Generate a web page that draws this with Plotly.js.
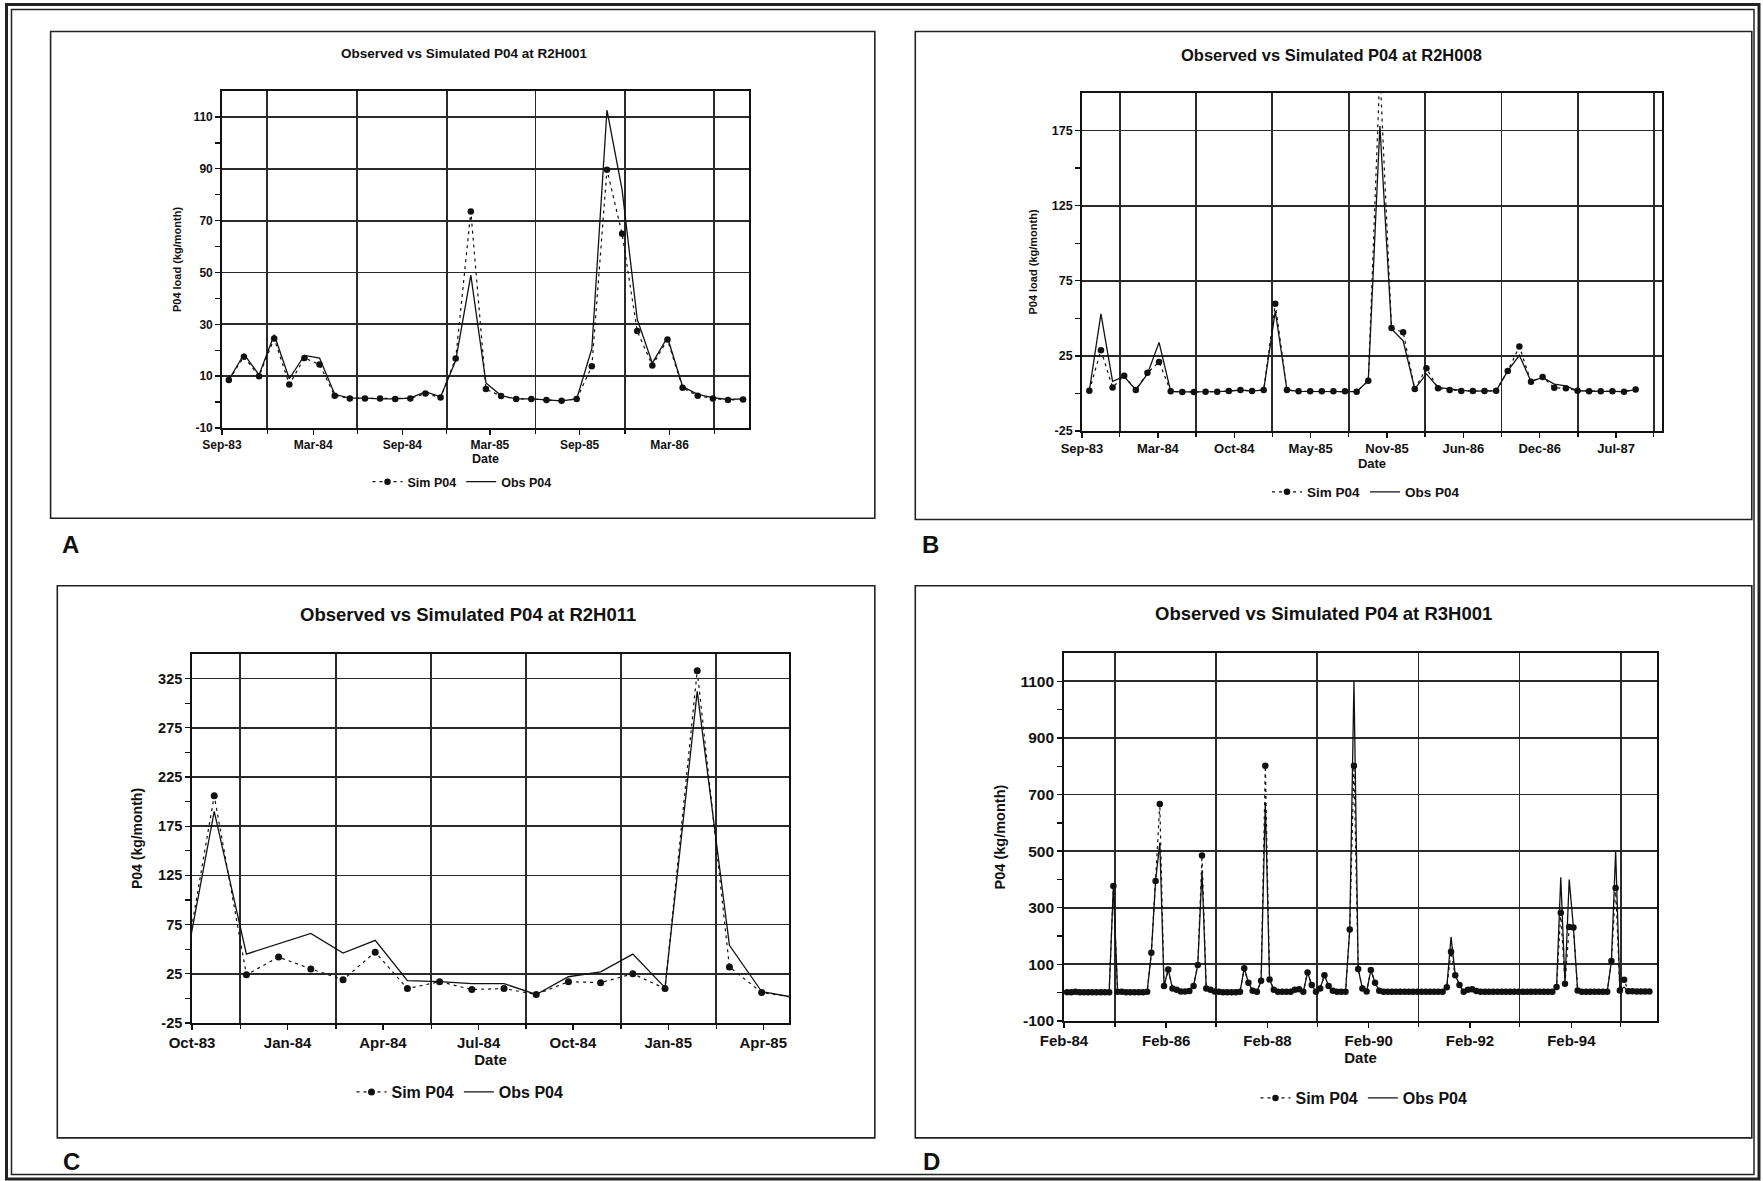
<!DOCTYPE html>
<html><head><meta charset="utf-8">
<script src="https://cdn.plot.ly/plotly-3.0.1.min.js"></script>
<style>html,body{margin:0;padding:0;background:#fff}#chart{width:1763px;height:1181px}</style>
</head><body><div id="chart"></div>
<script>
// ---------- DATA ----------
// Panel A: R2H001, monthly Sep-83 .. Jul-86
const simA = [8.5,17.5,10,24.5,6.8,17,14.5,2.4,1.4,1.4,1.4,1.2,1.4,3.3,1.8,16.8,73.5,5,2.3,1.2,1.2,0.8,0.5,1.2,13.8,89.6,64.9,27.4,14.1,24.1,5.5,2.4,1.4,0.8,1];
const obsA = [8.5,18.5,10.5,26,9,18,17,3,1.5,1.5,1.2,1.2,1.5,4,2,16,49,7.4,2.5,1.2,1.2,0.8,0.5,1.2,20.6,112.6,82,32,15,25,6,3,1.7,1,1.2];
const ticksA = ['Sep-83','Mar-84','Sep-84','Mar-85','Sep-85','Mar-86'];

// Panel B: R2H008, monthly Sep-83 .. Aug-87
const simB = [1.8,28.8,4,11.8,2.3,13.7,21,1.4,1,1, 1.2,1.2,1.6,2.3,1.6,2.3,59.7,2.3,1.4,1.4, 1.4,1.4,1.4,1.2,8.4,215,43.5,40.7,2.9,16.8, 3.4,2.3,1.6,1.6,1.6,1.8,15,31.2,7.8,11, 3.8,3.4,1.8,1.4,1.4,1.4,1.2,2.7];
const obsB = [1.8,53,8,11.3,2.3,13,34,1.4,1,1, 1.2,1.2,1.6,2.3,1.6,2.3,54.8,2.3,1.4,1.4, 1.4,1.4,1.4,1.2,8.4,178,43,35,3,13, 4,3,2,1.6,1.6,1.8,15,25.4,8,10.7, 6.2,5,1.8,1.4,1.4,1.4,1.2,2.5];
const ticksB = ['Sep-83','Mar-84','Oct-84','May-85','Nov-85','Jun-86','Dec-86','Jul-87'];

// Panel C: R2H011, monthly Sep-83 .. Apr-85 (first and last month run off the axis)
const simC = [15,206,24,42,30,19,47,10,17,9,10,4,17,16,25,10,333,32,6,1];
const obsC = [15,190,45,null,66,46,59,18,17,15,15,4,22,27,45,11,312,54,7,1];
const ticksC = ['Oct-83','Jan-84','Apr-84','Jul-84','Oct-84','Jan-85','Apr-85'];

// Panel D: R3H001, monthly Feb-84 .. Aug-95
const simD = [2,2,3,2,2,2,2,2,2,2,2, 377, 3,3,2,2,2,2,2,3,
  141,395,667,24,82,15,10,4,4,6,24,98,485,15,10,
  4,3,2,2,2,2,3, 86,35,7,3,42,802,47,10, 3,3,3,3, 10,12,3,71,27,3,15,62,24,7, 3,3,3,
  223,802,84,15,4,80,35,7, 3,3,3,3,3,3,3,3,3,3,3,3,3,3,3,
  19,145,62,27,3,10,12,6, 3,3,3,3,3,3,3,3,3,3,3,3,3,3,3,3,3,3,
  20,282,32,232,230,8, 3,3,3,3,3,3,3, 112,370,8,46, 5,5,4,4,4,4];
const obsD = [2,2,3,2,2,2,2,2,2,2,2, 377, 3,3,2,2,2,2,2,3,
  141,395,530,24,82,15,10,4,4,6,24,98,432,15,10,
  4,3,2,2,2,2,3, 86,35,7,3,42,673,47,10, 3,3,3,3, 10,12,3,71,27,3,15,62,24,7, 3,3,3,
  223,1100,84,15,4,80,35,7, 3,3,3,3,3,3,3,3,3,3,3,3,3,3,3,
  19,197,62,27,3,10,12,6, 3,3,3,3,3,3,3,3,3,3,3,3,3,3,3,3,3,3,
  20,408,32,400,230,8, 3,3,3,3,3,3,3, 112,500,8,20, 5,5,4,4,4,4];
const ticksD = ['Feb-84','Feb-86','Feb-88','Feb-90','Feb-92','Feb-94'];

const titles = ['Observed vs Simulated P04 at R2H001','Observed vs Simulated P04 at R2H008',
                'Observed vs Simulated P04 at R2H011','Observed vs Simulated P04 at R3H001'];
const yTitles = ['P04 load (kg/month)','P04 load (kg/month)','P04 (kg/month)','P04 (kg/month)'];
const panelLetters = ['A','B','C','D'];

// ---------- HELPERS ----------
const W = 1763, H = 1181;
const fx = p => p / W, fy = p => 1 - p / H;
const FONT = 'Liberation Sans, Arial, Helvetica, sans-serif';
const INK = '#111';
const GRID = '#2a2a2a';
const idx = (arr, off) => arr.map((_, i) => i + (off || 0));

function simTrace(y, off, xa, ya, leg, ms) {
  return {type:'scatter', mode:'lines+markers', name:'Sim P04', x: idx(y, off), y: y,
    xaxis:xa, yaxis:ya, legend: leg, cliponaxis:true,
    line:{color:INK, width:1.2, dash:'3px,4px'}, marker:{color:INK, size:ms, symbol:'circle'}};
}
function obsTrace(y, off, xa, ya, leg) {
  return {type:'scatter', mode:'lines', name:'Obs P04', x: idx(y, off), y: y, connectgaps:true,
    xaxis:xa, yaxis:ya, legend: leg, cliponaxis:true,
    line:{color:INK, width:1.3}};
}

const traces = [
  simTrace(simA, 0, 'x', 'y', 'legend', 6.5), obsTrace(obsA, 0, 'x', 'y', 'legend'),
  simTrace(simB, 0, 'x2', 'y2', 'legend2', 6.5), obsTrace(obsB, 0, 'x2', 'y2', 'legend2'),
  simTrace(simC, -1, 'x3', 'y3', 'legend3', 7), obsTrace(obsC, -1, 'x3', 'y3', 'legend3'),
  simTrace(simD, 0, 'x4', 'y4', 'legend4', 6.5), obsTrace(obsD, 0, 'x4', 'y4', 'legend4')
];

function xAxis(frame, range, tickvals, ticktext, gridvals, fs, tfs, anchor) {
  return {domain:[fx(frame.L), fx(frame.R)], anchor: anchor, range: range,
    tickmode:'array', tickvals: tickvals, ticktext: ticktext,
    ticks:'outside', ticklen:5, tickwidth:1.4, tickcolor:INK,
    showgrid:false, zeroline:false, showline:true, mirror:true, linecolor:INK, linewidth:1.8,
    tickfont:{family:FONT, size:fs, color:INK, weight:'bold'},
    title:{text:'Date', font:{family:FONT, size:tfs, color:INK, weight:'bold'}, standoff:1},
    minor:{tickmode:'array', tickvals: gridvals, showgrid:true, gridcolor:GRID, gridwidth:1.8,
      ticks:'outside', ticklen:4, tickwidth:1.4, tickcolor:INK}};
}
function yAxis(frame, range, major, minor, fs, tfs, title, anchor, standoff) {
  return {domain:[fy(frame.B), fy(frame.T)], anchor: anchor, range: range,
    tickmode:'array', tickvals: major, ticktext: major.map(String),
    ticks:'outside', ticklen:5, tickwidth:1.4, tickcolor:INK,
    showgrid:true, gridcolor:GRID, gridwidth:1.8, zeroline:false,
    showline:true, mirror:true, linecolor:INK, linewidth:1.8,
    tickfont:{family:FONT, size:fs, color:INK, weight:'bold'},
    title:{text:title, font:{family:FONT, size:tfs, color:INK, weight:'bold'}, standoff:standoff},
    minor:{tickmode:'array', tickvals: minor, showgrid:false, ticks:'outside', ticklen:5, tickwidth:1.4, tickcolor:INK}};
}

const fA = {L:222, R:749, T:91, B:428};
const fB = {L:1082, R:1662, T:93, B:431};
const fC = {L:192, R:789, T:654, B:1023};
const fD = {L:1064, R:1657, T:653, B:1021};

function legendAt(px, py, fs) {
  return {x:fx(px), y:fy(py), xanchor:'center', yanchor:'middle', orientation:'h',
    bgcolor:'rgba(0,0,0,0)', borderwidth:0, itemwidth:30, tracegroupgap:0,
    font:{family:FONT, size:fs, color:INK, weight:'bold'}};
}

function box(x0, y0, x1, y1, w) {
  return {type:'rect', xref:'paper', yref:'paper', x0:fx(x0), x1:fx(x1), y0:fy(y1), y1:fy(y0),
    line:{color:'#222', width:w}, fillcolor:'rgba(0,0,0,0)', layer:'below'};
}
function label(text, px, py, fs, bold) {
  return {text:text, xref:'paper', yref:'paper', x:fx(px), y:fy(py), xanchor:'center', yanchor:'middle',
    showarrow:false, font:{family:FONT, size:fs, color:INK, weight: bold ? 'bold' : 'normal'}};
}

const layout = {
  width:W, height:H, margin:{l:0, r:0, t:0, b:0},
  paper_bgcolor:'#fff', plot_bgcolor:'#fff', showlegend:true,
  xaxis:  xAxis(fA, [-0.45, 34.39], [-0.45, 5.58, 11.47, 17.26, 23.19, 29.14], ticksA,
                [2.55, 8.5, 14.4, 20.27, 26.2, 32.1], 12, 12.5, 'y'),
  yaxis:  yAxis(fA, [-10, 120], [-10,10,30,50,70,90,110], [0,20,40,60,80,100], 12, 11, yTitles[0], 'x', 9),
  xaxis2: xAxis(fB, [-0.63, 49.27], [-0.63, 5.9, 12.47, 19.04, 25.61, 32.18, 38.75, 45.32], ticksB,
                [2.61, 9.18, 15.75, 22.32, 28.89, 35.46, 42.03, 48.56], 13, 13, 'y2'),
  yaxis2: yAxis(fB, [-25, 200], [-25,25,75,125,175], [0,50,100,150], 12.5, 11, yTitles[1], 'x2', 12),
  xaxis3: xAxis(fC, [-0.69, 17.85], [-0.69, 2.28, 5.24, 8.21, 11.14, 14.1, 17.05], ticksC,
                [0.81, 3.78, 6.74, 9.68, 12.63, 15.59], 15, 15, 'y3'),
  yaxis3: yAxis(fC, [-25, 350], [-25,25,75,125,175,225,275,325], [0,50,100,150,200,250,300], 14.5, 14, yTitles[2], 'x3', 12),
  xaxis4: xAxis(fD, [-0.7, 139.8], [-0.7, 23.5, 47.5, 71.5, 95.5, 119.5], ticksD,
                [11.4, 35.3, 59.3, 83.3, 107.2, 131.2], 15, 15, 'y4'),
  yaxis4: yAxis(fD, [-100, 1200], [-100,100,300,500,700,900,1100], [0,200,400,600,800,1000], 15.5, 14.5, yTitles[3], 'x4', 11),
  legend:  legendAt(462, 482, 12.5),
  legend2: legendAt(1366, 492, 13.5),
  legend3: legendAt(460, 1092, 16),
  legend4: legendAt(1364, 1098, 16),
  shapes: [
    box(6.5, 4.5, 1759, 1179, 3),
    box(11.5, 9.5, 1754, 1174.5, 1.5),
    box(50.6, 31.5, 874.8, 518.3, 1.6),
    box(915.3, 31.5, 1751.8, 519.5, 1.6),
    box(57.3, 585.8, 874.8, 1137.9, 1.6),
    box(915.3, 585.8, 1751.8, 1137.9, 1.6)
  ],
  annotations: [
    label(titles[0], 464, 53, 13.5, true),
    label(titles[1], 1331, 55, 16.5, true),
    label(titles[2], 468, 614, 18.5, true),
    label(titles[3], 1323, 613, 18.5, true),
    label(panelLetters[0], 70, 544, 24, true),
    label(panelLetters[1], 931, 544, 24, true),
    label(panelLetters[2], 71, 1161, 24, true),
    label(panelLetters[3], 932, 1161, 24, true)
  ]
};

Plotly.newPlot('chart', traces, layout, {staticPlot:true, displayModeBar:false});
</script></body></html>
